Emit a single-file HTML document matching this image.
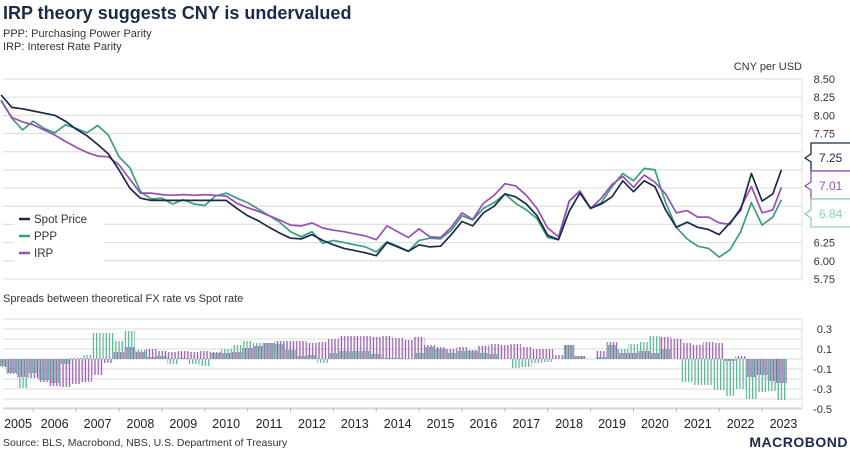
<!DOCTYPE html>
<html><head><meta charset="utf-8">
<style>
body{margin:0;background:#fff;width:850px;height:453px;overflow:hidden;font-family:"Liberation Sans",sans-serif;}
svg{display:block}
</style></head>
<body>
<svg id="chart" width="850" height="453" viewBox="0 0 850 453">
<defs>
<pattern id="stripeG" width="3.2" height="10" patternUnits="userSpaceOnUse"><rect x="0" y="0" width="1.3" height="10" fill="#5fb897"/></pattern>
<pattern id="stripeP" width="3.2" height="10" patternUnits="userSpaceOnUse"><rect x="1.6" y="0" width="1.3" height="10" fill="#9b59b6"/></pattern>
</defs>
<text x="3" y="19" font-size="18" font-weight="bold" fill="#1b2a4a">IRP theory suggests CNY is undervalued</text>
<text x="3" y="37" font-size="11" fill="#333">PPP: Purchasing Power Parity</text>
<text x="3" y="50" font-size="11" fill="#333">IRP: Interest Rate Parity</text>
<text x="802" y="70" font-size="11" fill="#333" text-anchor="end">CNY per USD</text>
<text x="3" y="302" font-size="11" fill="#333">Spreads between theoretical FX rate vs Spot rate</text>
<text x="3" y="446" font-size="10.5" fill="#333">Source: BLS, Macrobond, NBS, U.S. Department of Treasury</text>
<text x="848" y="447" font-size="14" font-weight="bold" fill="#1b2a4a" text-anchor="end" letter-spacing="0.5">MACROBOND</text>
<g id="topg"></g>
<g id="bottomg"></g>
<g id="xaxisg"></g>
</svg>
<script>
const dates = [];
const spot = [8.28,8.11,8.09,8.06,8.03,8.00,7.92,7.81,7.72,7.60,7.47,7.25,7.00,6.86,6.83,6.83,6.83,6.83,6.83,6.83,6.83,6.83,6.72,6.62,6.55,6.46,6.38,6.31,6.30,6.36,6.28,6.22,6.17,6.14,6.11,6.07,6.25,6.19,6.13,6.22,6.19,6.20,6.36,6.54,6.48,6.66,6.75,6.92,6.88,6.78,6.62,6.35,6.29,6.68,6.93,6.72,6.78,6.88,7.10,6.95,7.10,7.02,6.70,6.46,6.53,6.46,6.43,6.36,6.52,6.70,7.20,6.82,6.92,7.25];
const ppp = [8.21,7.96,7.80,7.92,7.82,7.76,7.87,7.82,7.76,7.86,7.73,7.43,7.28,6.95,6.85,6.86,6.78,6.84,6.78,6.76,6.89,6.93,6.86,6.80,6.71,6.62,6.53,6.40,6.33,6.40,6.24,6.28,6.25,6.22,6.19,6.12,6.26,6.20,6.13,6.28,6.31,6.30,6.42,6.62,6.56,6.72,6.80,6.92,6.79,6.70,6.58,6.32,6.29,6.82,6.96,6.72,6.80,7.02,7.20,7.10,7.27,7.25,6.80,6.46,6.30,6.20,6.17,6.05,6.15,6.40,6.80,6.49,6.60,6.84];
const irp = [8.20,7.97,7.91,7.87,7.80,7.73,7.64,7.56,7.49,7.44,7.43,7.32,7.12,6.93,6.93,6.91,6.90,6.91,6.90,6.91,6.90,6.89,6.79,6.73,6.68,6.62,6.56,6.49,6.48,6.52,6.45,6.42,6.40,6.37,6.34,6.29,6.48,6.40,6.32,6.44,6.33,6.32,6.46,6.66,6.57,6.79,6.90,7.06,7.03,6.90,6.72,6.45,6.33,6.82,6.96,6.72,6.86,7.05,7.16,7.01,7.18,7.08,6.92,6.66,6.69,6.60,6.60,6.52,6.50,6.73,7.02,6.66,6.70,7.01];
const topTicks = ["8.50","8.25","8.00","7.75","6.25","6.00","5.75"];
const spreadTicks = ["0.3","0.1","-0.1","-0.3","-0.5"];
const years = [2005,2006,2007,2008,2009,2010,2011,2012,2013,2014,2015,2016,2017,2018,2019,2020,2021,2022,2023];
const lastLabels = ["7.25","7.01","6.84"];
for(let i=0;i<73;i++) dates.push(2005.25+i*0.25);
dates.push(2023.45);

const NS="http://www.w3.org/2000/svg";
function mk(tag,attrs,parent){const e=document.createElementNS(NS,tag);for(const k in attrs)e.setAttribute(k,attrs[k]);parent.appendChild(e);return e;}
const X=t=>33.3+(t-2006)*42.87;
const Y=v=>79+(8.5-v)*72.7;
const YS=v=>359-v*100;
const topG=document.getElementById('topg'), botG=document.getElementById('bottomg'), xaG=document.getElementById('xaxisg');

for(let v=8.5;v>=5.749;v-=0.25){
  const l=mk('line',{x1:3,x2:802,y1:Y(v),y2:Y(v),stroke:'#e0e0e0','stroke-width':1.2},topG);
  
  
}
const vl=mk('line',{x1:802,x2:802,y1:79,y2:281,stroke:'#e0e0e0'},topG);


topTicks.forEach(s=>{
  const t=mk('text',{x:835,y:Y(+s)+4,'font-size':11,fill:'#333','text-anchor':'end'},topG);
  t.textContent=s;
  
  
});
function line(arr,color,name){
  const d=arr.map((v,i)=>(i?'L':'M')+X(dates[i]).toFixed(1)+','+Y(v).toFixed(1)).join('');
  const p=mk('path',{d:d,fill:'none',stroke:color,'stroke-width':1.7,'stroke-linejoin':'round'},topG);
  
  
}
line(ppp,'#3a9e7e','ppp-line');
line(irp,'#9b4fb5','irp-line');
line(spot,'#1b2a4a','spot-price-line');
const lg=mk('rect',{x:14,y:208,width:90,height:56,fill:'#fff'},topG);


[['Spot Price','#1b2a4a',219],['PPP','#3a9e7e',236],['IRP','#9b4fb5',253]].forEach(([n,c,y])=>{
  const g=mk('g',{},topG);
  
  
  mk('line',{x1:19,x2:30,y1:y,y2:y,stroke:c,'stroke-width':2.5},g);
  const t=mk('text',{x:34,y:y+4,'font-size':11.5,fill:'#333'},g);
  t.textContent=n;
});
const tagCol=['#1b2a4a','#9b4fb5','#8fd0b4'];
lastLabels.forEach((s,i)=>{
  const y0=143+i*28;
  const g=mk('g',{},topG);
  
  
  mk('path',{d:`M850,${y0}H811V${y0+11}L805,${y0+15}L811,${y0+19}V${y0+28}H850`,fill:'#fff',stroke:tagCol[i],'stroke-width':1.3},g);
  const t=mk('text',{x:819,y:y0+19,'font-size':12,fill:tagCol[i]},g);
  t.textContent=s;
});

for(let k=4;k>=-5;k--){
  const l=mk('line',{x1:3,x2:802,y1:YS(k/10),y2:YS(k/10),stroke:'#e0e0e0','stroke-width':1.2},botG);
  
  
}
const vl2=mk('line',{x1:802,x2:802,y1:319,y2:409,stroke:'#e0e0e0'},botG);


spreadTicks.forEach(s=>{
  const t=mk('text',{x:832,y:YS(+s)+4,'font-size':11,fill:'#333','text-anchor':'end'},botG);
  t.textContent=s;
  
  
});
dates.forEach((d,i)=>{
  const x=X(d);
  const gp=ppp[i]-spot[i], ip=irp[i]-spot[i];
  const b1=mk('rect',{x:x-5.4,y:Math.min(YS(gp),359),width:10.7,height:Math.abs(gp*100),fill:'url(#stripeG)'},botG);
  
  
  const b2=mk('rect',{x:x-5.4,y:Math.min(YS(ip),359),width:10.7,height:Math.abs(ip*100),fill:'url(#stripeP)'},botG);
  
  
});
const ax=mk('line',{x1:3,x2:802,y1:408,y2:408,stroke:'#d0d0d0'},xaG);


years.forEach(yr=>{
  if(yr>2005){
    const tk=mk('line',{x1:X(yr),x2:X(yr),y1:408,y2:412,stroke:'#bbb'},xaG);
    
    
  }
  const cx=yr===2005?18:X(yr)+21.4;
  const t=mk('text',{x:cx,y:428,'font-size':12.5,fill:'#222','text-anchor':'middle'},xaG);
  t.textContent=yr;
  
  
});
</script>
</body></html>
